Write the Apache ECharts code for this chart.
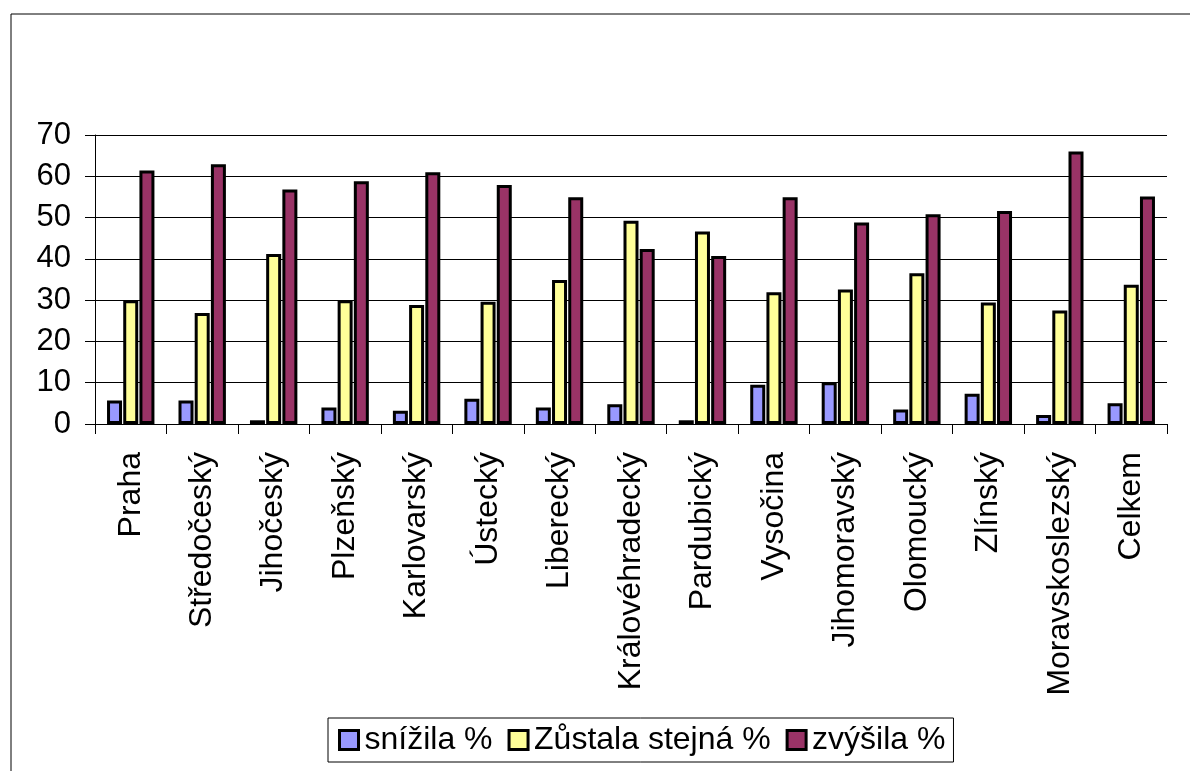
<!DOCTYPE html>
<html>
<head>
<meta charset="utf-8">
<script src="https://cdn.jsdelivr.net/npm/echarts@6/dist/echarts.min.js"></script>
<style>html,body{margin:0;padding:0;background:#fff}#c{width:1190px;height:771px}</style>
</head>
<body>
<div id="c"></div>
<script>
var categories = ['Praha','Středočeský','Jihočeský','Plzeňský','Karlovarský','Ústecký','Liberecký','Královéhradecký','Pardubický','Vysočina','Jihomoravský','Olomoucký','Zlínský','Moravskoslezský','Celkem'];
var snizila = [5.7,5.7,0.9,4.0,3.2,6.1,4.0,4.8,0.9,9.5,10.1,3.5,7.3,2.2,5.0];
var zustala = [30.0,26.9,41.2,30.0,28.8,29.6,34.9,49.2,46.6,31.9,32.6,36.5,29.4,27.5,33.7];
var zvysila = [61.4,62.9,56.8,58.8,61.0,57.9,54.9,42.4,40.7,54.9,48.8,50.8,51.6,66.0,55.1];
var seriesNames = ['snížila %','Zůstala stejná %','zvýšila %'];
var yTicks = [0,10,20,30,40,50,60,70];

var font = 'Liberation Sans, Arial, sans-serif';
var chart = echarts.init(document.getElementById('c'), null, {renderer:'canvas'});
function bar(name, data, color){
  return {name:name, type:'bar', data:data, barWidth:15, barGap:'8%',
    itemStyle:{color:color, borderColor:'#000', borderWidth:3, borderType:'solid'}};
}
chart.setOption({
  animation:false,
  backgroundColor:'#fff',
  graphic:[{type:'rect', shape:{x:11,y:14,width:1200,height:800}, style:{fill:'none', stroke:'#000', lineWidth:1}, silent:true}],
  grid:{left:95, right:23, top:135, bottom:347},
  legend:{
    data:seriesNames, left:328, top:718, orient:'horizontal',
    icon:'rect', itemWidth:19, itemHeight:19, itemGap:15,
    borderColor:'#000', borderWidth:1, padding:[6,8,6,10],
    itemStyle:{borderWidth:3, borderColor:'#000'},
    textStyle:{fontFamily:font, fontSize:32, color:'#000', padding:[0,0,0,1]}
  },
  xAxis:{type:'category', data:categories,
    axisLine:{lineStyle:{color:'#000', width:1}},
    axisTick:{show:true, length:10, lineStyle:{color:'#000'}},
    axisLabel:{rotate:90, fontFamily:font, fontSize:32, color:'#000', margin:28, interval:0}
  },
  yAxis:{type:'value', min:0, max:70, interval:10,
    axisLine:{show:true, lineStyle:{color:'#000', width:1}},
    axisTick:{show:true, length:10, lineStyle:{color:'#000'}},
    splitLine:{show:true, lineStyle:{color:'#000', width:1}},
    axisLabel:{fontFamily:font, fontSize:31, color:'#000', margin:24,
      formatter:function(v){return yTicks.indexOf(v)>=0?String(v):'';}}
  },
  series:[bar(seriesNames[0], snizila, '#9999FF'), bar(seriesNames[1], zustala, '#FFFF99'), bar(seriesNames[2], zvysila, '#993366')]
});
</script>
</body>
</html>
